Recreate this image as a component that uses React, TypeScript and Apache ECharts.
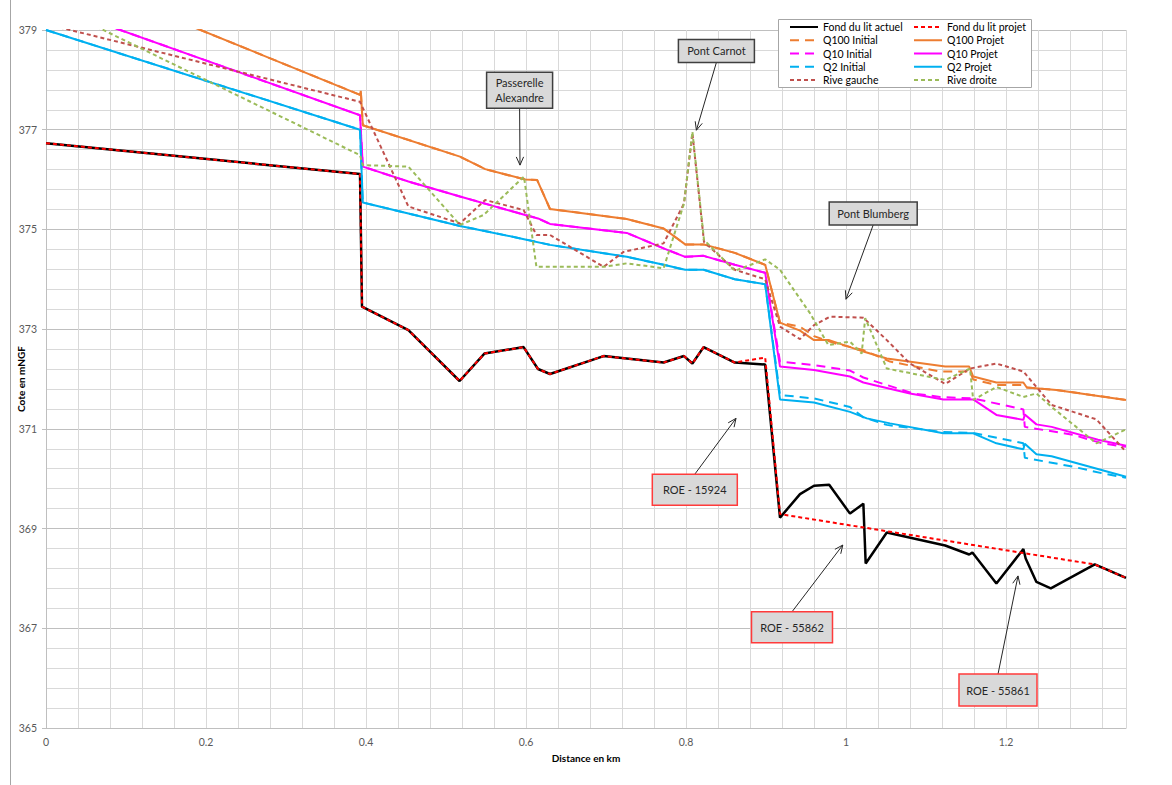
import React, { useEffect, useRef } from "react";
import * as echarts from "echarts";

type P = [number, number];

const FONT = "Lato, 'Open Sans', sans-serif";

const fondActuel: P[] = [
  [0, 376.73], [0.3925, 376.11], [0.395, 373.45], [0.453, 372.98], [0.517, 371.96], [0.548, 372.51],
  [0.597, 372.64], [0.615, 372.2], [0.63, 372.1], [0.697, 372.46], [0.772, 372.33], [0.7975, 372.46],
  [0.808, 372.31], [0.822, 372.64], [0.861, 372.33], [0.899, 372.29], [0.9175, 369.22], [0.9425, 369.69],
  [0.96, 369.86], [0.979, 369.88], [1.005, 369.3], [1.0217, 369.5], [1.0246, 368.3], [1.051, 368.92],
  [1.124, 368.66], [1.154, 368.48], [1.158, 368.52], [1.188, 367.9], [1.2217, 368.59], [1.2246, 368.4],
  [1.238, 367.93], [1.256, 367.8], [1.311, 368.28], [1.35, 368.01],
];

const fondProjet: P[] = [
  [0, 376.73], [0.3925, 376.11], [0.395, 373.45], [0.453, 372.98], [0.517, 371.96], [0.548, 372.51],
  [0.597, 372.64], [0.615, 372.2], [0.63, 372.1], [0.697, 372.46], [0.772, 372.33], [0.7975, 372.46],
  [0.808, 372.31], [0.822, 372.64], [0.861, 372.33], [0.899, 372.43], [0.9175, 369.29], [1.311, 368.28],
  [1.35, 368.01],
];

const q100Projet: P[] = [
  [0, 380.26], [0.3925, 377.7], [0.3935, 377.78], [0.396, 377.09], [0.5175, 376.46], [0.549, 376.21],
  [0.599, 376.0], [0.614, 375.99], [0.63, 375.41], [0.726, 375.21], [0.772, 375.02], [0.799, 374.7],
  [0.822, 374.7], [0.861, 374.53], [0.899, 374.29], [0.9175, 373.13], [0.9425, 372.97], [0.96, 372.78],
  [0.979, 372.78], [1.0217, 372.55], [1.051, 372.41], [1.124, 372.25], [1.154, 372.25], [1.159, 372.05],
  [1.188, 371.93], [1.2217, 371.93], [1.226, 371.83], [1.263, 371.78], [1.35, 371.58],
];

const q100Initial: P[] = [
  [0, 380.26], [0.3925, 377.7], [0.3935, 377.78], [0.396, 377.09], [0.5175, 376.46], [0.549, 376.21],
  [0.599, 376.0], [0.614, 375.99], [0.63, 375.41], [0.726, 375.21], [0.772, 375.02], [0.799, 374.7],
  [0.822, 374.7], [0.861, 374.53], [0.899, 374.29], [0.9175, 373.13], [0.9425, 373.05], [0.96, 372.86],
  [0.985, 372.72], [1.0217, 372.58], [1.055, 372.35], [1.1175, 372.15], [1.155, 372.15], [1.159, 371.99],
  [1.188, 371.88], [1.2217, 371.88], [1.226, 371.83], [1.263, 371.78], [1.35, 371.58],
];

const q10Projet: P[] = [
  [0, 379.53], [0.3925, 377.29], [0.396, 376.26], [0.453, 375.96], [0.5175, 375.66], [0.599, 375.29],
  [0.615, 375.22], [0.63, 375.11], [0.726, 374.93], [0.772, 374.62], [0.799, 374.45], [0.822, 374.47],
  [0.861, 374.29], [0.899, 374.13], [0.9175, 372.25], [0.96, 372.18], [1.005, 372.05], [1.0217, 371.93],
  [1.08, 371.71], [1.1217, 371.59], [1.159, 371.59], [1.188, 371.28], [1.2217, 371.18], [1.2235, 371.29],
  [1.238, 371.09], [1.257, 371.04], [1.315, 370.78], [1.35, 370.66],
];

const q10Initial: P[] = [
  [0, 379.53], [0.3925, 377.29], [0.396, 376.26], [0.453, 375.96], [0.5175, 375.66], [0.599, 375.29],
  [0.615, 375.22], [0.63, 375.11], [0.726, 374.93], [0.772, 374.62], [0.799, 374.45], [0.822, 374.47],
  [0.861, 374.29], [0.899, 374.13], [0.9175, 372.35], [0.96, 372.28], [1.005, 372.17], [1.0217, 372.03],
  [1.084, 371.71], [1.1175, 371.64], [1.159, 371.61], [1.2217, 371.39], [1.2235, 371.04], [1.284, 370.88],
  [1.32, 370.71], [1.35, 370.64],
];

const q2Projet: P[] = [
  [0, 379.0], [0.3925, 377.0], [0.396, 375.54], [0.453, 375.32], [0.5175, 375.07], [0.599, 374.8],
  [0.63, 374.69], [0.726, 374.45], [0.772, 374.29], [0.799, 374.19], [0.822, 374.19], [0.861, 374.0],
  [0.899, 373.9], [0.9175, 371.59], [0.96, 371.53], [1.005, 371.34], [1.026, 371.21], [1.055, 371.11],
  [1.1217, 370.91], [1.159, 370.91], [1.188, 370.71], [1.2217, 370.59], [1.2235, 370.7], [1.238, 370.49],
  [1.257, 370.45], [1.35, 370.04],
];

const q2Initial: P[] = [
  [0, 379.0], [0.3925, 377.0], [0.396, 375.54], [0.453, 375.32], [0.5175, 375.07], [0.599, 374.8],
  [0.63, 374.69], [0.726, 374.45], [0.772, 374.29], [0.799, 374.19], [0.822, 374.19], [0.861, 374.0],
  [0.899, 373.9], [0.9175, 371.68], [0.96, 371.61], [1.005, 371.44], [1.0217, 371.23], [1.051, 371.08],
  [1.1175, 370.94], [1.159, 370.92], [1.2217, 370.71], [1.2235, 370.42], [1.284, 370.24], [1.32, 370.11],
  [1.35, 370.02],
];

const riveGauche: P[] = [
  [0, 379.12], [0.3925, 377.56], [0.453, 375.46], [0.5175, 375.12], [0.549, 375.59], [0.597, 375.39],
  [0.613, 374.89], [0.63, 374.89], [0.697, 374.25], [0.722, 374.55], [0.772, 374.72], [0.7975, 375.52],
  [0.808, 376.93], [0.8225, 374.75], [0.861, 374.19], [0.899, 374.0], [0.9175, 373.05], [0.9425, 372.8],
  [0.96, 373.08], [0.98, 373.25], [1.0217, 373.23], [1.051, 372.78], [1.08, 372.31], [1.124, 371.9],
  [1.155, 372.21], [1.188, 372.31], [1.2217, 372.15], [1.238, 371.84], [1.257, 371.48], [1.313, 371.19],
  [1.35, 370.54],
];

const riveDroite: P[] = [
  [0, 379.56], [0.3925, 376.49], [0.396, 376.29], [0.453, 376.26], [0.5175, 375.09], [0.547, 375.29],
  [0.5975, 376.06], [0.613, 374.25], [0.697, 374.25], [0.726, 374.32], [0.772, 374.22], [0.7975, 375.52],
  [0.808, 376.96], [0.8225, 374.79], [0.861, 374.17], [0.899, 374.4], [0.9175, 374.19], [0.955, 373.32],
  [0.978, 372.68], [1.005, 372.75], [1.0196, 372.51], [1.024, 373.22], [1.051, 372.21], [1.124, 371.98],
  [1.155, 372.21], [1.159, 371.58], [1.188, 371.84], [1.2217, 371.64], [1.238, 371.71], [1.257, 371.44],
  [1.313, 370.71], [1.35, 370.99],
];

const legendLeft = ["Fond du lit actuel", "Q100 Initial", "Q10 Initial", "Q2 Initial", "Rive gauche"];
const legendRight = ["Fond du lit projet", "Q100 Projet", "Q10 Projet", "Q2 Projet", "Rive droite"];

const annotations = [
  { text: "Passerelle\nAlexandre", box: [0.592, 377.79], w: 66, h: 36, target: [0.5925, 376.29], border: "#3f3f3f" },
  { text: "Pont Carnot", box: [0.838, 378.58], w: 76, h: 23, target: [0.813, 376.99], border: "#3f3f3f" },
  { text: "Pont Blumberg", box: [1.034, 375.32], w: 88, h: 23, target: [1.0, 373.6], border: "#3f3f3f" },
  { text: "ROE - 15924", box: [0.811, 369.78], w: 85, h: 31, target: [0.8625, 371.21], border: "#ff3b3b" },
  { text: "ROE - 55862", box: [0.9325, 367.02], w: 81, h: 31, target: [0.996, 368.67], border: "#ff3b3b" },
  { text: "ROE - 55861", box: [1.19, 365.76], w: 78, h: 32, target: [1.215, 368.05], border: "#ff3b3b" },
];

function line(name: string, data: P[], color: string, width: number, type: any) {
  return {
    name,
    type: "line",
    data,
    symbol: "none",
    showSymbol: false,
    lineStyle: { color, width, type },
    itemStyle: { color },
    emphasis: { disabled: true },
    animation: false,
  };
}

export default function App() {
  const ref = useRef<HTMLDivElement>(null);
  useEffect(() => {
    if (!ref.current) return;
    const chart = echarts.init(ref.current, undefined, { renderer: "svg" });
    const legendCommon = {
      orient: "vertical",
      top: 21,
      itemWidth: 28,
      itemHeight: 12,
      itemGap: 1.25,
      padding: 0,
      selectedMode: false,
      z: 20,
      itemStyle: { color: "transparent", borderColor: "transparent", borderWidth: 0, opacity: 0 },
      textStyle: { fontSize: 10.5, fontFamily: FONT, color: "#000", lineHeight: 12 },
    };
    const option: any = {
      animation: false,
      textStyle: { fontFamily: FONT },
      grid: { left: 46, right: 46, top: 30, bottom: 57, containLabel: false, outerBoundsMode: "none" },
      legend: [
        { ...legendCommon, left: 789, data: legendLeft },
        { ...legendCommon, left: 913, data: legendRight },
      ],
      xAxis: {
        type: "value",
        min: 0,
        max: 1.35,
        interval: 0.04,
        axisLine: { show: true, lineStyle: { color: "#bfbfbf" } },
        axisTick: { show: false },
        axisLabel: {
          color: "#595959",
          fontSize: 10.5,
          fontFamily: FONT,
          margin: 8,
          showMaxLabel: false,
          formatter: (v: number) => {
            const k = v / 0.2;
            if (Math.abs(k - Math.round(k)) < 1e-6) return String(+v.toFixed(1));
            return "";
          },
        },
        splitLine: { show: true, lineStyle: { color: "#d9d9d9" } },
        name: "Distance en km",
        nameLocation: "middle",
        nameGap: 25,
        nameTextStyle: { fontWeight: "bold", fontSize: 10, color: "#000", fontFamily: FONT },
      },
      yAxis: {
        type: "value",
        min: 365,
        max: 379,
        interval: 2,
        axisLine: { show: true, lineStyle: { color: "#bfbfbf" } },
        axisTick: { show: true, length: 4, lineStyle: { color: "#bfbfbf" } },
        axisLabel: { color: "#595959", fontSize: 10.5, fontFamily: FONT, margin: 9 },
        splitLine: { show: true, lineStyle: { color: "#bfbfbf" } },
        minorTick: { show: false, splitNumber: 5 },
        minorSplitLine: { show: true, lineStyle: { color: "#d9d9d9" } },
        name: "Cote en mNGF",
        nameLocation: "middle",
        nameGap: 20,
        nameMoveOverlap: false,
        nameRotate: 90,
        nameTextStyle: { fontWeight: "bold", fontSize: 10, color: "#000", fontFamily: FONT },
      },
      series: [
        line("Fond du lit actuel", fondActuel, "#000000", 2.5, "solid"),
        line("Fond du lit projet", fondProjet, "#ff0000", 2, [4, 3]),
        line("Q100 Initial", q100Initial, "#ed7d31", 2, [9, 6]),
        line("Q100 Projet", q100Projet, "#ed7d31", 2, "solid"),
        line("Q10 Initial", q10Initial, "#ff00ff", 2, [9, 6]),
        line("Q10 Projet", q10Projet, "#ff00ff", 2, "solid"),
        line("Q2 Initial", q2Initial, "#00b0f0", 2, [9, 6]),
        line("Q2 Projet", q2Projet, "#00b0f0", 2, "solid"),
        line("Rive gauche", riveGauche, "#c0504d", 2, [4, 3]),
        line("Rive droite", riveDroite, "#9bbb59", 2, [4, 3]),
      ],
    };
    chart.setOption(option);

    const toPx = (p: number[]) => chart.convertToPixel({ gridIndex: 0 }, p) as number[];
    const graphics: any[] = [
      {
        type: "line",
        z: 1,
        shape: { x1: 10.5, y1: 0, x2: 10.5, y2: 785 },
        style: { stroke: "#a6a6a6", lineWidth: 1 },
      },
      {
        type: "rect",
        z: 15,
        shape: { x: 778.5, y: 19.5, width: 253, height: 68 },
        style: { fill: "#ffffff", stroke: "#a6a6a6", lineWidth: 1 },
      },
    ];
    annotations.forEach((a) => {
      const c = toPx(a.box);
      const t = toPx(a.target);
      const tailY = t[1] > c[1] ? c[1] + a.h / 2 : c[1] - a.h / 2;
      const tail = [c[0], tailY];
      const ang = Math.atan2(t[1] - tail[1], t[0] - tail[0]);
      const L = 9;
      const s = 0.42;
      const p1 = [t[0] - L * Math.cos(ang - s), t[1] - L * Math.sin(ang - s)];
      const p2 = [t[0] - L * Math.cos(ang + s), t[1] - L * Math.sin(ang + s)];
      graphics.push(
        {
          type: "line",
          z: 30,
          shape: { x1: tail[0], y1: tail[1], x2: t[0], y2: t[1] },
          style: { stroke: "#262626", lineWidth: 1 },
        },
        {
          type: "polyline",
          z: 30,
          shape: { points: [p1, t, p2] },
          style: { stroke: "#262626", lineWidth: 1, fill: null },
        },
        {
          type: "rect",
          z: 31,
          shape: { x: c[0] - a.w / 2, y: c[1] - a.h / 2, width: a.w, height: a.h },
          style: { fill: "#d9d9d9", stroke: a.border, lineWidth: 1.5 },
        },
        {
          type: "text",
          z: 32,
          x: c[0],
          y: c[1],
          style: {
            text: a.text,
            fill: "#262626",
            font: `11px ${FONT}`,
            align: "center",
            verticalAlign: "middle",
            lineHeight: 15,
          },
        }
      );
    });
    chart.setOption({ graphic: graphics });

    return () => chart.dispose();
  }, []);
  return (
    <div
      ref={ref}
      style={{ position: "absolute", left: 0, top: 0, width: 1172, height: 785, background: "#fff" }}
    />
  );
}
